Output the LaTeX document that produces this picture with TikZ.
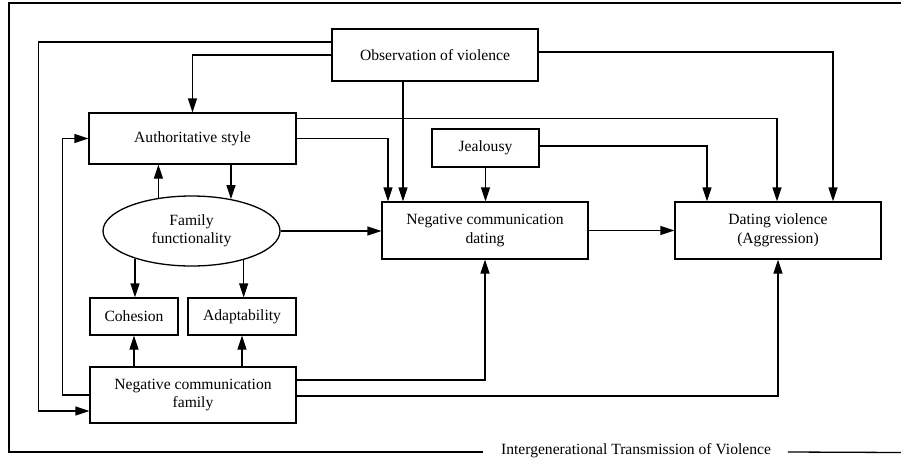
\documentclass[tikz,border=0pt]{standalone}
\usepackage{fontspec}
\setmainfont{Liberation Serif}
\usepackage{tikz}
\usetikzlibrary{arrows.meta, shapes.geometric}
\tikzset{box/.style={draw, rectangle, inner sep=0pt, align=center},
    arr/.style={-{Triangle[length=14pt, width=9pt]}}}

\begin{document}
\begin{tikzpicture}[x=1pt, y=-1pt, line width=1.3pt,
        font=\fontsize{15.6}{18.5}\selectfont]
            \useasboundingbox (0, 0) rectangle (901, 463);
            \node[box, minimum width=206, minimum height=52] (obs) at (435, 55) {Observation of violence};
            \node[box, minimum width=207, minimum height=51] (auth) at (192.5, 138.5) {Authoritative style};
            \node[box, minimum width=107, minimum height=38] (jeal) at (485.5, 148) {Jealousy};
            \node[draw, ellipse, inner sep=0pt, minimum width=177, minimum height=70, align=center] (func) at (191.5, 231) {Family\\functionality};
            \node[box, minimum width=206, minimum height=57] (ncd) at (485, 230.5) {Negative communication\\dating};
            \node[box, minimum width=206, minimum height=57] (dv) at (778, 230.5) {Dating violence\\(Aggression)};
            \node[box, minimum width=88, minimum height=37] (coh) at (134, 316.5) {Cohesion};
            \node[box, minimum width=108, minimum height=37] (adapt) at (242, 316.5) {Adaptability};
            \node[box, minimum width=206, minimum height=56] (ncf) at (193, 395) {Negative communication\\family};
            \node (itv) at (636, 451) {Intergenerational Transmission of Violence};

            % frame
            \draw ([xshift=-14pt, yshift=-1pt]itv.west) -| (9, 3) -- (901, 3);
            \draw ([xshift=13pt, yshift=-1pt]itv.east) -- (901, 452.5);

            % from observation
            \draw[arr] ([yshift=13pt]obs.west) -- ++(-293, 0) |- ([yshift=-16pt]ncf.west);
            \draw[arr] (obs.west) -| (auth.north);
            \draw[arr] ([xshift=-32pt]obs.south) -- ([xshift=-32pt]obs.south |- ncd.north);
            \draw[arr] ([yshift=3pt]obs.east) -| ([xshift=55pt]dv.north);

            % from authoritative style
            \draw[arr] ([yshift=20pt]auth.east) -| ([xshift=-1pt]dv.north);
            \draw[arr] (auth.east) -| ([xshift=-97pt]ncd.north);
            \draw[arr] (func.39 |- auth.south) -- (func.39);
            \draw[arr] (func.135) -- (func.135 |- auth.south);

            % family functionality
            \draw[arr] (func.east) -- (func.east -| ncd.west);
            \draw[arr] (func.206) -- (func.206 |- coh.north);
            \draw[arr] (func.-29) -- (func.-29 |- adapt.north);

            % jealousy
            \draw[arr] (jeal.south) -- (jeal.south |- ncd.north);
            \draw[arr] ([yshift=2pt]jeal.east) -| ([xshift=-71pt]dv.north);

            \draw[arr] (ncd.east) -- (dv.west);

            % from negative communication family
            \draw[arr] (ncf.north -| coh) -- (coh.south);
            \draw[arr] (ncf.north -| adapt) -- (adapt.south);
            \draw[arr] (ncf.west) -- ++(-27, 0) |- (auth.west);
            \draw[arr] ([yshift=15pt]ncf.east) -| (ncd.south);
            \draw[arr] ([yshift=-1pt]ncf.east) -| (dv.south);
        \end{tikzpicture}
\end{document}
